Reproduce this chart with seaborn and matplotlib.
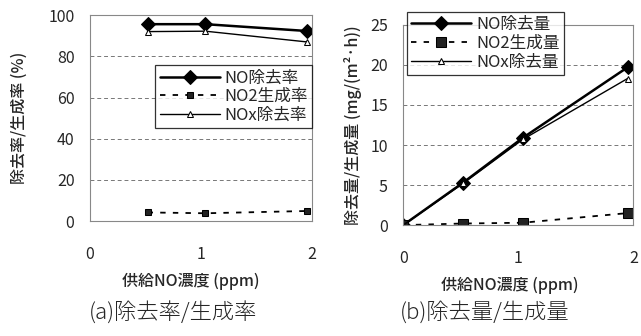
import pandas as pd
import seaborn as sns
import matplotlib.pyplot as plt

# supplied NO concentration (ppm)
x_rate = [0.52, 1.04, 1.95]
x_amount = [0.0, 0.52, 1.04, 1.95]

# (a) removal / generation rate (%)
no_removal_rate = [95.6, 95.6, 92.3]
no2_gen_rate = [4.2, 3.8, 4.9]
nox_removal_rate = [92.0, 92.2, 87.0]

# (b) removal / generation amount (mg/(m2*h))
no_removal_amt = [0.0, 5.3, 10.9, 19.7]
no2_gen_amt = [0.0, 0.2, 0.3, 1.5]
nox_removal_amt = [0.0, 5.2, 10.7, 18.3]

labels_a = ['NO除去率', 'NO2生成率', 'NOx除去率']
labels_b = ['NO除去量', 'NO2生成量', 'NOx除去量']

sns.set_style('white')
plt.rcParams['font.family'] = ['Noto Sans CJK JP', 'DejaVu Sans']

fig = plt.figure(figsize=(6.41, 3.36), dpi=100)
ax1 = fig.add_axes([0.140, 0.342, 0.347, 0.613])
ax2 = fig.add_axes([0.629, 0.330, 0.359, 0.596])

styles = [
    dict(marker='D', markersize=7, linewidth=1.8, linestyle='-', color='black',
         markerfacecolor='black', markeredgecolor='black'),
    dict(marker='s', markersize=5, linewidth=1.3, linestyle=(0, (3, 4)), color='black',
         markerfacecolor='#222222', markeredgecolor='black'),
    dict(marker='^', markersize=5, linewidth=1.0, linestyle='-', color='black',
         markerfacecolor='white', markeredgecolor='black'),
]

series_a = [no_removal_rate, no2_gen_rate, nox_removal_rate]
for vals, lab, st in zip(series_a, labels_a, styles):
    sns.lineplot(x=x_rate, y=vals, ax=ax1, label=lab, **st)

series_b = [no_removal_amt, no2_gen_amt, nox_removal_amt]
for i, (vals, lab, st) in enumerate(zip(series_b, labels_b, styles)):
    st = dict(st)
    if i == 1:
        st['markersize'] = 7.5
    sns.lineplot(x=x_amount, y=vals, ax=ax2, label=lab, **st)

for ax, ymax, step in [(ax1, 100, 20), (ax2, 25, 5)]:
    ax.set_xlim(0, 2)
    ax.set_ylim(0, ymax)
    ax.set_xticks([0, 1, 2])
    ax.set_yticks(range(0, ymax + 1, step))
    for v in range(step, ymax, step):
        ax.axhline(v, color='#777777', linestyle=(0, (4, 3)), linewidth=0.7, zorder=0)
    for sp in ax.spines.values():
        sp.set_color('#888888')
        sp.set_linewidth(0.8)
    ax.tick_params(axis='both', length=0, labelsize=11.5)
    ax.tick_params(axis='x', pad=18)
    ax.tick_params(axis='y', pad=11)
    ax.set_xlabel('供給NO濃度 (ppm)', fontsize=11.5, fontweight='medium', va='top')

ax1.set_ylabel('除去率/生成率 (%)', fontsize=11.5, fontweight='medium', va='center')
ax2.set_ylabel('除去量/生成量 (mg/(m²·h))', fontsize=11.5, fontweight='medium', va='center')
ax1.yaxis.set_label_coords(-0.315, 0.5)
ax2.yaxis.set_label_coords(-0.217, 0.5)
ax1.xaxis.set_label_coords(0.455, -0.252)
ax2.xaxis.set_label_coords(0.465, -0.26)

leg_kw = dict(frameon=True, fancybox=False, edgecolor='black', fontsize=12,
              handlelength=3.6, borderaxespad=0, borderpad=0.25, labelspacing=0.1,
              handletextpad=0.3)
l1 = ax1.legend(loc='upper right', bbox_to_anchor=(1.0, 0.757), **leg_kw)
l2 = ax2.legend(loc='upper left', bbox_to_anchor=(0.017, 1.065), **leg_kw)
for lg in (l1, l2):
    lg.get_frame().set_linewidth(0.9)

fig.text(173 / 641, 1 - 312 / 336, '(a)除去率/生成率', ha='center', va='center',
         fontsize=16, fontweight='light')
fig.text(485 / 641, 1 - 312 / 336, '(b)除去量/生成量', ha='center', va='center',
         fontsize=16, fontweight='light')

plt.savefig('out.png', dpi=100)
